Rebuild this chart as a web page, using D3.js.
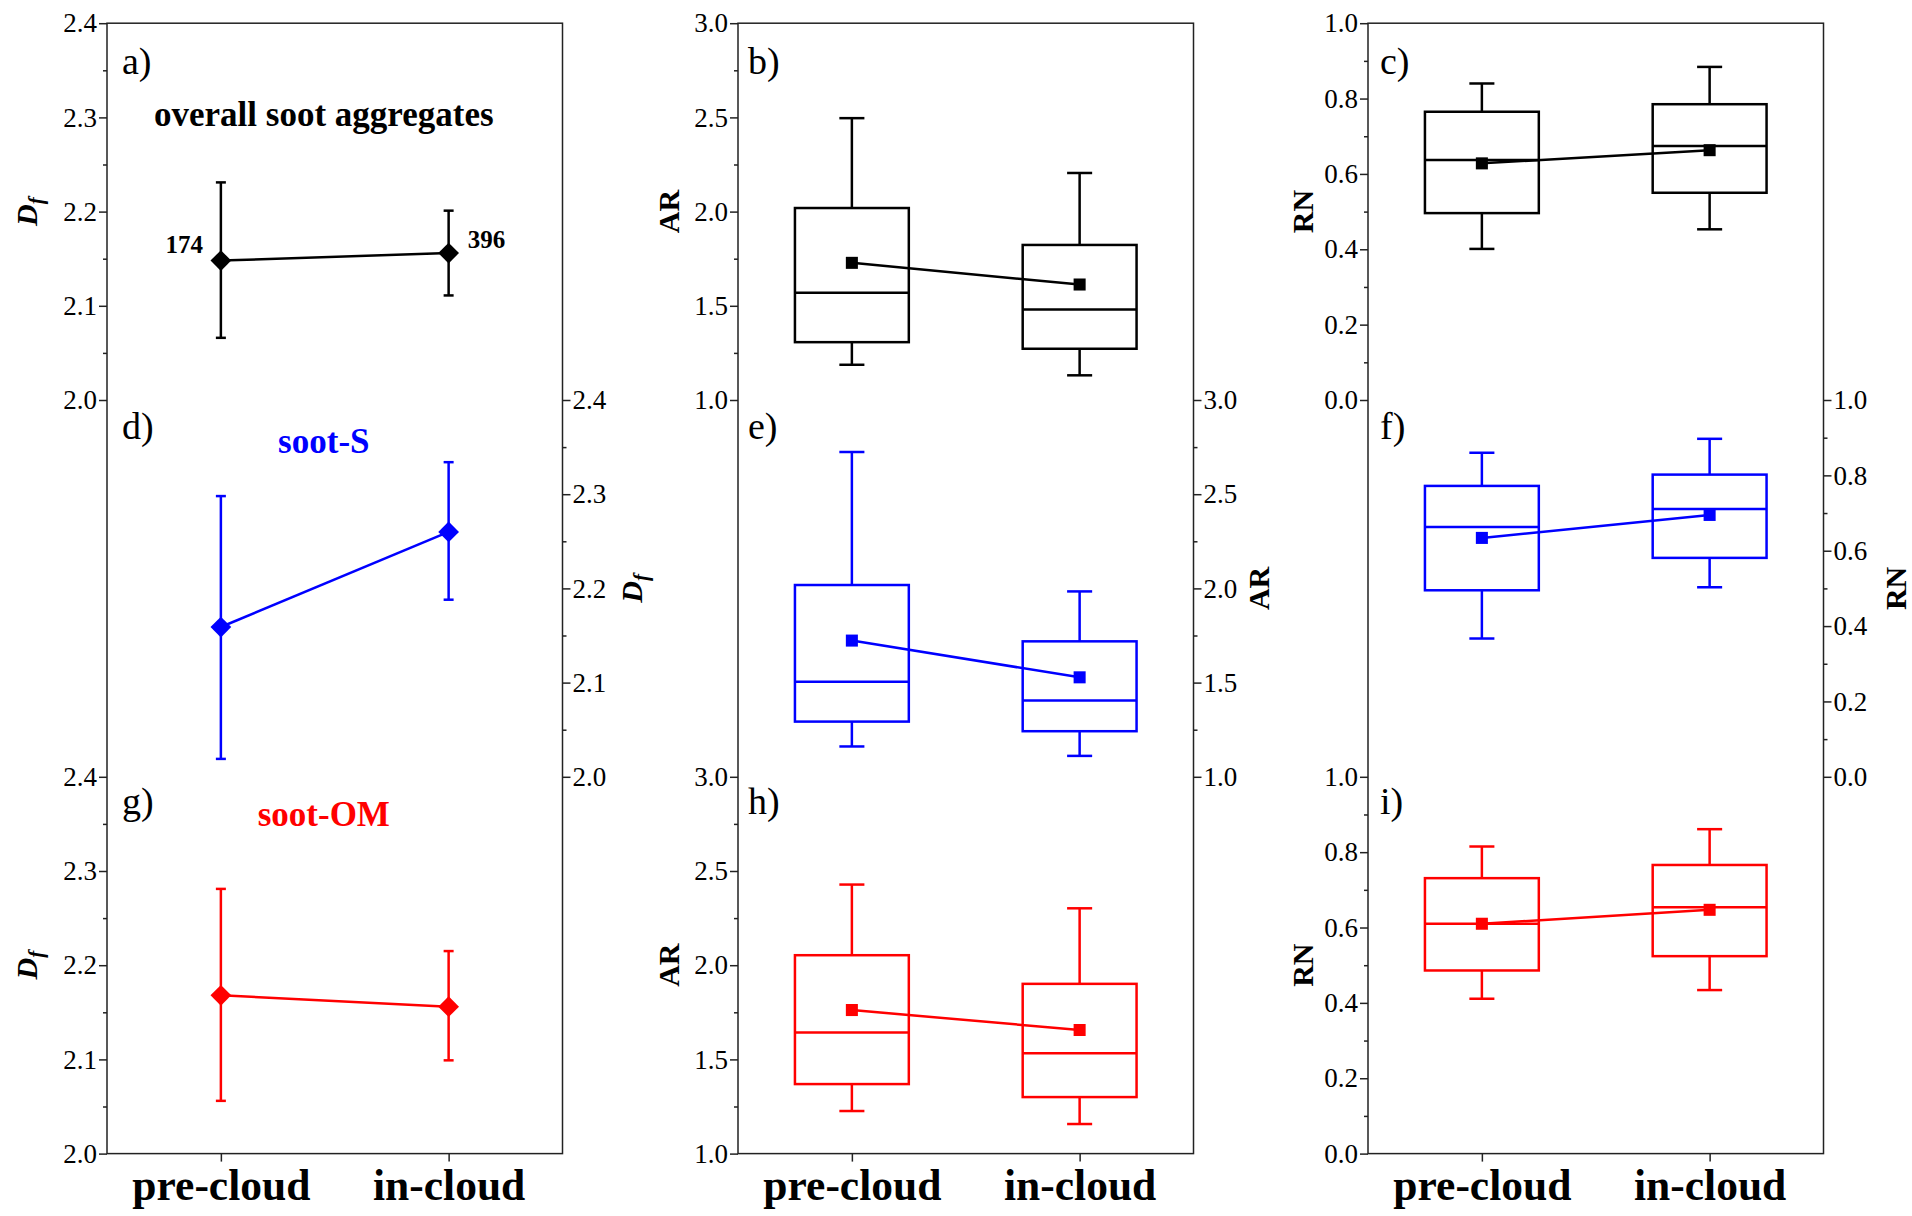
<!DOCTYPE html>
<html>
<head>
<meta charset="utf-8">
<script src="https://cdn.jsdelivr.net/npm/d3@7"></script>
<style>
  body { margin: 0; background: #fff; }
  svg text { font-family: "Liberation Serif", "Times New Roman", serif; }
</style>
</head>
<body>
<svg id="chart" width="1912" height="1216"></svg>
<script>
// ---- data ----
const categories = ["pre-cloud", "in-cloud"];
const groupNames = ["overall soot aggregates", "soot-S", "soot-OM"];
const groupColors = ["#000000", "#0000ff", "#ff0000"];
const particleCounts = [174, 396];

// fractal dimension Df: mean and bar ends
const dfMeanOverall = [2.148, 2.156];
const dfLowOverall  = [2.066, 2.111];
const dfHighOverall = [2.231, 2.201];
const dfMeanS = [2.159, 2.260];
const dfLowS  = [2.019, 2.188];
const dfHighS = [2.298, 2.334];
const dfMeanOM = [2.168, 2.156];
const dfLowOM  = [2.056, 2.099];
const dfHighOM = [2.281, 2.215];

// aspect ratio AR boxes: [lower whisker, Q1, median, Q3, upper whisker]
const arBoxOverall = [[1.187, 1.307, 1.569, 2.019, 2.496], [1.131, 1.272, 1.481, 1.823, 2.205]];
const arMeanOverall = [1.728, 1.613];
const arBoxS = [[1.161, 1.293, 1.505, 2.018, 2.724], [1.111, 1.242, 1.405, 1.719, 1.984]];
const arMeanS = [1.723, 1.528];
const arBoxOM = [[1.226, 1.369, 1.643, 2.053, 2.428], [1.157, 1.300, 1.532, 1.901, 2.302]];
const arMeanOM = [1.762, 1.656];

// roundness RN boxes: [lower whisker, Q1, median, Q3, upper whisker]
const rnBoxOverall = [[0.401, 0.496, 0.637, 0.765, 0.840], [0.453, 0.550, 0.674, 0.785, 0.884]];
const rnMeanOverall = [0.628, 0.663];
const rnBoxS = [[0.367, 0.495, 0.663, 0.772, 0.860], [0.503, 0.581, 0.711, 0.802, 0.897]];
const rnMeanS = [0.634, 0.695];
const rnBoxOM = [[0.411, 0.486, 0.610, 0.731, 0.815], [0.434, 0.524, 0.654, 0.766, 0.861]];
const rnMeanOM = [0.610, 0.647];

// axis ticks
const dfTicks = [2.0, 2.1, 2.2, 2.3, 2.4];
const dfMinorTicks = [2.05, 2.15, 2.25, 2.35];
const arTicks = [1.0, 1.5, 2.0, 2.5, 3.0];
const arMinorTicks = [1.25, 1.75, 2.25, 2.75];
const rnTicks = [0.0, 0.2, 0.4, 0.6, 0.8, 1.0];
const rnMinorTicks = [0.1, 0.3, 0.5, 0.7, 0.9];

const panelLetters = [["a)", "d)", "g)"], ["b)", "e)", "h)"], ["c)", "f)", "i)"]];

// ---- layout ----
const svg = d3.select("#chart");
const colX = [107, 738, 1368];
const panelW = 455.5;
const top0 = 23.2;
const rowH = 376.8;
const frameColor = "#222";
const serif = "'Liberation Serif', 'Times New Roman', serif";
const fmt = d3.format(".1f");

const columns = [
  { kind: "df", domain: [2.0, 2.4], ticks: dfTicks, minor: dfMinorTicks,
    titleLeftX: 26, titleRightX: 631,
    rows: [
      { mean: dfMeanOverall, low: dfLowOverall, high: dfHighOverall },
      { mean: dfMeanS, low: dfLowS, high: dfHighS },
      { mean: dfMeanOM, low: dfLowOM, high: dfHighOM }
    ] },
  { kind: "box", title: "AR", domain: [1.0, 3.0], ticks: arTicks, minor: arMinorTicks,
    titleLeftX: 668, titleRightX: 1258,
    rows: [
      { box: arBoxOverall, mean: arMeanOverall },
      { box: arBoxS, mean: arMeanS },
      { box: arBoxOM, mean: arMeanOM }
    ] },
  { kind: "box", title: "RN", domain: [0.0, 1.0], ticks: rnTicks, minor: rnMinorTicks,
    titleLeftX: 1302, titleRightX: 1895,
    rows: [
      { box: rnBoxOverall, mean: rnMeanOverall },
      { box: rnBoxS, mean: rnMeanS },
      { box: rnBoxOM, mean: rnMeanOM }
    ] }
];

const letterOffsets = [51, 39, 37];
const letterInset = [15, 10, 12];
const groupTitleBaselines = [126, 453, 826];

function styleAxis(g, fontSize) {
  g.attr("font-family", serif)
   .attr("font-size", fontSize)
   .attr("color", frameColor);
  g.selectAll(".tick line").attr("stroke-width", 1.5);
  g.selectAll(".tick text").attr("fill", "#000")
   .style("font-family", serif).style("font-size", fontSize + "px");
  g.select(".domain").remove();
}

columns.forEach((col, c) => {
  const x = d3.scalePoint().domain(categories)
    .range([colX[c], colX[c] + panelW]).padding(0.5);

  col.rows.forEach((rowData, r) => {
    const color = groupColors[r];
    const yBottom = top0 + rowH * (r + 1);
    const yTop = top0 + rowH * r;
    const y = d3.scaleLinear().domain(col.domain).range([yBottom, yTop]);
    const panel = svg.append("g");

    // y axis: left for the outer rows, right for the middle row
    const right = r === 1;
    const axisX = right ? colX[c] + panelW : colX[c];
    const axisFn = right ? d3.axisRight : d3.axisLeft;
    const major = panel.append("g").attr("transform", `translate(${axisX},0)`)
      .call(axisFn(y).tickValues(col.ticks).tickFormat(fmt).tickSize(8).tickPadding(2));
    styleAxis(major, 27);
    const minor = panel.append("g").attr("transform", `translate(${axisX},0)`)
      .call(axisFn(y).tickValues(col.minor).tickFormat("").tickSize(4));
    styleAxis(minor, 27);

    // axis title
    const tx = right ? col.titleRightX : col.titleLeftX;
    const ty = (yTop + yBottom) / 2;
    const title = panel.append("text")
      .attr("transform", `translate(${tx},${ty}) rotate(-90)`)
      .attr("text-anchor", "middle")
      .attr("dy", "0.35em")
      .attr("font-weight", "bold")
      .attr("font-size", 30);
    if (col.kind === "df") {
      title.append("tspan").attr("font-style", "italic").text("D");
      title.append("tspan").attr("font-style", "italic").attr("font-size", 21)
        .attr("dy", "0.3em").text("f");
    } else {
      title.text(col.title);
    }

    // panel letter
    panel.append("text")
      .attr("x", colX[c] + letterInset[c])
      .attr("y", yTop + letterOffsets[r])
      .attr("font-size", 38)
      .text(panelLetters[c][r]);

    if (col.kind === "df") {
      // mean line
      const line = d3.line().x((d, i) => x(categories[i])).y(d => y(d));
      panel.append("path").datum(rowData.mean)
        .attr("d", line).attr("fill", "none")
        .attr("stroke", color).attr("stroke-width", 2.5);
      // error bars and diamond markers
      categories.forEach((cat, i) => {
        const cx = x(cat);
        panel.append("line")
          .attr("x1", cx).attr("x2", cx)
          .attr("y1", y(rowData.low[i])).attr("y2", y(rowData.high[i]))
          .attr("stroke", color).attr("stroke-width", 2.5);
        [rowData.low[i], rowData.high[i]].forEach(v => {
          panel.append("line")
            .attr("x1", cx - 5).attr("x2", cx + 5)
            .attr("y1", y(v)).attr("y2", y(v))
            .attr("stroke", color).attr("stroke-width", 2.5);
        });
        panel.append("path")
          .attr("d", d3.symbol(d3.symbolSquare, 215)())
          .attr("transform", `translate(${cx},${y(rowData.mean[i])}) rotate(45)`)
          .attr("fill", color);
      });
      // group title
      panel.append("text")
        .attr("x", colX[c] + 0.476 * panelW)
        .attr("y", groupTitleBaselines[r])
        .attr("text-anchor", "middle")
        .attr("font-weight", "bold")
        .attr("font-size", 35)
        .attr("fill", color)
        .text(groupNames[r]);
      // sample counts next to the overall markers
      if (r === 0) {
        panel.append("text")
          .attr("x", x(categories[0]) - 18)
          .attr("y", y(rowData.mean[0]) - 8)
          .attr("text-anchor", "end")
          .attr("font-weight", "bold").attr("font-size", 25)
          .text(particleCounts[0]);
        panel.append("text")
          .attr("x", x(categories[1]) + 19)
          .attr("y", y(rowData.mean[1]) - 5)
          .attr("text-anchor", "start")
          .attr("font-weight", "bold").attr("font-size", 25)
          .text(particleCounts[1]);
      }
    } else {
      const boxW = panelW * 0.25;
      const capW = panelW * 0.055;
      categories.forEach((cat, i) => {
        const [lo, q1, med, q3, hi] = rowData.box[i];
        const cx = x(cat);
        const g = panel.append("g").attr("stroke", color).attr("stroke-width", 2.5).attr("fill", "none");
        g.append("line").attr("x1", cx).attr("x2", cx).attr("y1", y(q3)).attr("y2", y(hi));
        g.append("line").attr("x1", cx).attr("x2", cx).attr("y1", y(q1)).attr("y2", y(lo));
        g.append("line").attr("x1", cx - capW / 2).attr("x2", cx + capW / 2).attr("y1", y(hi)).attr("y2", y(hi));
        g.append("line").attr("x1", cx - capW / 2).attr("x2", cx + capW / 2).attr("y1", y(lo)).attr("y2", y(lo));
        g.append("rect").attr("x", cx - boxW / 2).attr("width", boxW)
          .attr("y", y(q3)).attr("height", y(q1) - y(q3));
        g.append("line").attr("x1", cx - boxW / 2).attr("x2", cx + boxW / 2).attr("y1", y(med)).attr("y2", y(med));
      });
      const line = d3.line().x((d, i) => x(categories[i])).y(d => y(d));
      panel.append("path").datum(rowData.mean)
        .attr("d", line).attr("fill", "none")
        .attr("stroke", color).attr("stroke-width", 2.5);
      categories.forEach((cat, i) => {
        panel.append("path")
          .attr("d", d3.symbol(d3.symbolSquare, 145)())
          .attr("transform", `translate(${x(cat)},${y(rowData.mean[i])})`)
          .attr("fill", color);
      });
    }

    // category axis along the bottom row
    if (r === 2) {
      const xa = panel.append("g").attr("transform", `translate(0,${yBottom})`)
        .call(d3.axisBottom(x).tickSize(8).tickPadding(8));
      styleAxis(xa, 43.5);
      xa.selectAll(".tick text").attr("font-weight", "bold");
    }
  });

  // column frame (no separators between stacked panels)
  svg.append("rect")
    .attr("x", colX[c]).attr("y", top0)
    .attr("width", panelW).attr("height", rowH * 3)
    .attr("fill", "none").attr("stroke", frameColor).attr("stroke-width", 1.5);
});
</script>
</body>
</html>
